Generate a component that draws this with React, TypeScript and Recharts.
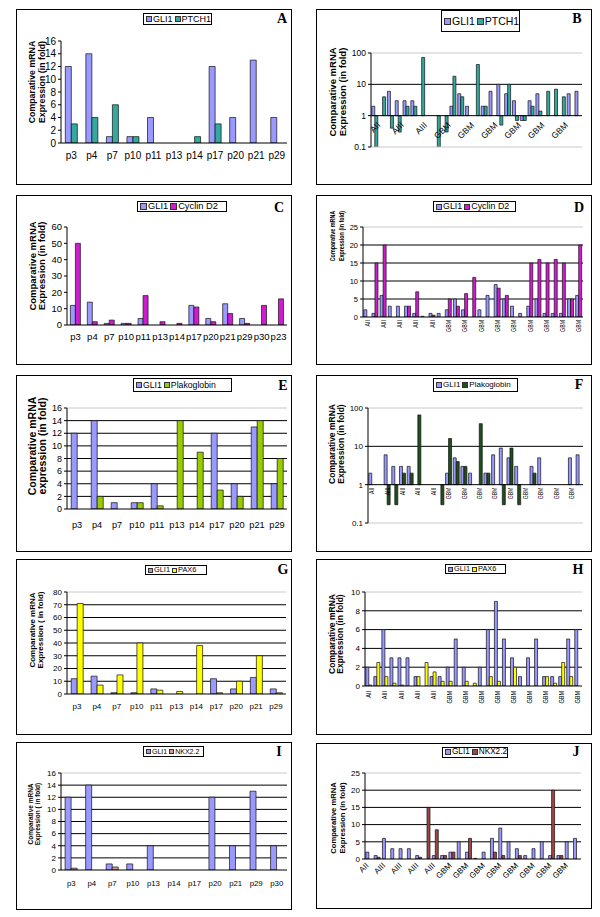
import React from 'react';
import { BarChart, Bar, XAxis, YAxis, CartesianGrid, ReferenceLine } from 'recharts';

const FONT = '"Liberation Sans", Arial, Helvetica, sans-serif';
const SERIF = '"Liberation Serif", "Times New Roman", serif';

// ---- shared ----
const gliColor = '#9999FF';
const grades = [
  'AII', 'AII', 'AIII', 'AIII', 'AIII', 'AIII', 'AIII', 'AIII', 'AIII', 'GBM',
  'GBM', 'GBM', 'GBM', 'GBM', 'GBM', 'GBM', 'GBM', 'GBM', 'GBM', 'GBM',
  'GBM', 'GBM', 'GBM', 'GBM', 'GBM', 'GBM', 'GBM', 'GBM',
];

// ---- A: GLI1 / PTCH1, cell lines ----
const catsA = ['p3', 'p4', 'p7', 'p10', 'p11', 'p13', 'p14', 'p17', 'p20', 'p21', 'p29'];
const gliA = [12, 14, 1, 1, 4, 0, 0, 12, 4, 13, 4];
const ptchA = [3, 4, 6, 1, 0, 0, 1, 3, 0, 0, 0];
const ticksA = [0, 2, 4, 6, 8, 10, 12, 14, 16];

// ---- B: GLI1 / PTCH1, tumours (log) ----
const catsB = grades.slice(0, 27);
const gliB = [2, null, 6, 3, 3, 3, null, null, null, null, 2, 5, 2, null, 2, 6, 10, 5, 3, 0.7, 3, 5, null, null, null, 5, 6];
const ptchB = [0.1, 4, 0.4, 0.3, 2, 2, 72, null, 0.1, 0.3, 18, 4, null, 43, 2, null, 0.5, 10, 0.7, 0.7, 2, 1.4, 6, 7, 4, null, null];
const ticksB = [0.1, 1, 10, 100];

// ---- C: GLI1 / Cyclin D2, cell lines ----
const catsC = ['p3', 'p4', 'p7', 'p10', 'p11', 'p13', 'p14', 'p17', 'p20', 'p21', 'p29', 'p30', 'p23'];
const gliC = [12, 14, 1, 1, 4, 0, 0, 12, 4, 13, 4, 0, 0];
const cycC = [50, 2, 3, 1, 18, 2, 1, 11, 2, 7, 1, 12, 16];
const ticksC = [0, 10, 20, 30, 40, 50, 60];

// ---- D: GLI1 / Cyclin D2, tumours ----
const catsD = grades.slice(0, 27);
const gliD = [2, 1, 6, 3, 3, 3, 1, 0.2, 1, 1, 2, 5, 2, 0, 2, 6, 9, 5, 3, 1, 3, 5, 1, 1, 1, 5, 6];
const cycD = [0, 15, 20, 0, 0, 3, 7, 0, 0.5, 0, 5, 3, 6.5, 11, 0, 0, 8, 6, 0, 0, 15, 16, 15, 16, 15, 5, 20];
const ticksD = [0, 5, 10, 15, 20, 25];

// ---- E: GLI1 / Plakoglobin, cell lines ----
const catsE = ['p3', 'p4', 'p7', 'p10', 'p11', 'p13', 'p14', 'p17', 'p20', 'p21', 'p29'];
const gliE = [12, 14, 1, 1, 4, 0, 0, 12, 4, 13, 4];
const plakoE = [0, 2, 0, 1, 0.5, 14, 9, 3, 2, 14, 8];
const ticksE = [0, 2, 4, 6, 8, 10, 12, 14, 16];

// ---- F: GLI1 / Plakoglobin, tumours (log) ----
const catsF = grades.slice(0, 28);
const gliF = [2, null, 6, 3, 3, 3, null, null, null, null, 2, 5, 3, 2, null, 2, 6, 9, 5, 3, null, 3, 5, null, null, null, 5, 6];
const plakoF = [null, null, 0.3, 0.3, 2, 2, 66, null, null, 0.3, 16, 4, 3, null, 39, 2, null, 0.3, 9, 0.3, null, 2, null, null, null, null, null, null];
const ticksF = [0.1, 1, 10, 100];

// ---- G: GLI1 / PAX6, cell lines ----
const catsG = ['p3', 'p4', 'p7', 'p10', 'p11', 'p13', 'p14', 'p17', 'p20', 'p21', 'p29'];
const gliG = [12, 14, 1, 1, 4, 0, 0, 12, 4, 13, 4];
const paxG = [71, 7, 15, 40, 3, 2, 38, 1, 10, 30, 1];
const ticksG = [0, 10, 20, 30, 40, 50, 60, 70, 80];

// ---- H: GLI1 / PAX6, tumours ----
const catsH = grades.slice(0, 27);
const gliH = [2, 1, 6, 3, 3, 3, 1, 0, 1, 1, 2, 5, 2, 0, 2, 6, 9, 5, 3, 1, 3, 5, 1, 1, 1, 5, 6];
const paxH = [0.1, 2.5, 1, 0.3, 0.1, 0, 1, 2.5, 1.5, 0.5, 0.5, 0, 0.5, 0.3, 0, 1, 0.5, 0, 2, 0, 0, 0, 1, 0.3, 2.5, 1, 0];
const ticksH = [0, 2, 4, 6, 8, 10];

// ---- I: GLI1 / NKX2.2, cell lines ----
const catsI = ['p3', 'p4', 'p7', 'p10', 'p13', 'p14', 'p17', 'p20', 'p21', 'p29', 'p30'];
const gliI = [12, 14, 1, 1, 4, 0, 0, 12, 4, 13, 4];
const nkxI = [0.3, 0, 0.5, 0, 0, 0, 0, 0, 0, 0, 0];
const ticksI = [0, 2, 4, 6, 8, 10, 12, 14, 16];

// ---- J: GLI1 / NKX2.2, tumours ----
const catsJ = grades.slice(0, 26);
const gliJ = [2, 1, 6, 3, 3, 3, 1, 0, 1, 1, 2, 5, 2, 0.2, 2, 6, 9, 5, 3, 1, 3, 5, 1, 1, 5, 6];
const nkxJ = [0, 0.5, 0, 0, 0, 0, 0.5, 15, 8.5, 1, 2, 0, 6, 0, 0, 2, 1, 0, 1, 0, 0, 0, 20, 1, 0, 0];
const ticksJ = [0, 5, 10, 15, 20, 25];

const LBL = ['Comparative mRNA', 'Expression (in fold)'];
const LBL2 = ['Comparative mRNA', 'Expression ( in fold)'];

const panels = [
  {
    letter: 'A', box: [16, 9, 276, 176], plot: [61, 41, 287, 143], cats: catsA,
    s: [{ name: 'GLI1', values: gliA, color: gliColor }, { name: 'PTCH1', values: ptchA, color: '#33A99F' }],
    ticks: ticksA, grid: [], light: [], mode: 'flat', interval: 0, xFont: 10, yFont: 10, xOff: 16, xDx: 0, xSx: 1, gap: '21%',
    yLabel: { lines: LBL, x: [32, 42], cy: 82, size: 8.8, sx: 1 },
    legend: [143, 13, 69, 12], legendFont: 9, letterPos: [282, 24],
  },
  {
    letter: 'B', box: [316, 9, 276, 176], plot: [371, 53, 582, 147], cats: catsB, log: true,
    s: [{ name: 'GLI1', values: gliB, color: gliColor }, { name: 'PTCH1', values: ptchB, color: '#33A99F' }],
    ticks: ticksB, grid: [10], light: [100, 0.1], mode: 'diag', interval: 2, xFont: 8.5, yFont: 8.5, xOff: 10, xDx: 6, xSx: 1, gap: '10%',
    yLabel: { lines: LBL, x: [333, 343], cy: 92, size: 9.5, sx: 1 },
    legend: [441, 10, 79, 22], legendFont: 10.5, letterPos: [577, 24],
  },
  {
    letter: 'C', box: [16, 195, 276, 170], plot: [67, 227, 287, 325], cats: catsC,
    s: [{ name: 'GLI1', values: gliC, color: gliColor }, { name: 'Cyclin D2', values: cycC, color: '#D11BD1' }],
    ticks: ticksC, grid: [], light: [], mode: 'flat', interval: 0, xFont: 9.5, yFont: 9.5, xOff: 15, xDx: 0, xSx: 1, gap: '20%',
    yLabel: { lines: LBL, x: [33, 42], cy: 266, size: 9.5, sx: 1 },
    legend: [137, 201, 90, 11], legendFont: 9.3, letterPos: [279, 213],
  },
  {
    letter: 'D', box: [316, 195, 276, 170], plot: [363, 227, 583, 317], cats: catsD,
    s: [{ name: 'GLI1', values: gliD, color: gliColor }, { name: 'Cyclin D2', values: cycD, color: '#D11BD1' }],
    ticks: ticksD, grid: [5, 10, 15, 20], light: [25], mode: 'vert', interval: 1, xFont: 7, yFont: 7.5, xOff: 3, xDx: 0, xSx: 0.75, gap: '10%',
    yLabel: { lines: LBL, x: [333, 342], cy: 236, size: 7, sx: 0.77 },
    legend: [433, 201, 83, 11], legendFont: 8.9, letterPos: [579, 213],
  },
  {
    letter: 'E', box: [16, 375, 276, 177], plot: [67, 408, 287, 509], cats: catsE,
    s: [{ name: 'GLI1', values: gliE, color: gliColor }, { name: 'Plakoglobin', values: plakoE, color: '#99CC00' }],
    ticks: ticksE, grid: [2, 4, 6, 8, 10, 12, 14], light: [16], mode: 'flat', interval: 0, xFont: 9.2, yFont: 9, xOff: 18.5, xDx: 0, xSx: 1, gap: '21%',
    yLabel: { lines: ['Comparative mRNA', 'expression (in fold)'], x: [32, 42], cy: 446, size: 10.5, sx: 1 },
    legend: [133, 378, 99, 14], legendFont: 8.7, letterPos: [283, 391],
  },
  {
    letter: 'F', box: [316, 375, 276, 177], plot: [368, 408, 583, 523], cats: catsF, log: true,
    s: [{ name: 'GLI1', values: gliF, color: gliColor }, { name: 'Plakoglobin', values: plakoF, color: '#1F4F1F' }],
    ticks: ticksF, grid: [10], light: [100, 0.1], mode: 'vert', interval: 1, xFont: 7, yFont: 8, xOff: 3, xDx: 0, xSx: 0.73, gap: '10%',
    yLabel: { lines: LBL, x: [332, 341], cy: 444, size: 8.5, sx: 1 },
    legend: [433, 378, 85, 14], legendFont: 8, letterPos: [579, 390],
  },
  {
    letter: 'G', box: [16, 559, 276, 176], plot: [67, 592, 286, 694], cats: catsG,
    s: [{ name: 'GLI1', values: gliG, color: gliColor }, { name: 'PAX6', values: paxG, color: '#FFFF00' }],
    ticks: ticksG, grid: [10, 20, 30, 40, 50, 60, 70], light: [80], mode: 'flat', interval: 0, xFont: 8, yFont: 8, xOff: 15, xDx: 0, xSx: 1, gap: '21%',
    yLabel: { lines: LBL2, x: [32, 40], cy: 630, size: 8, sx: 1 },
    legend: [145, 565, 62, 10], legendFont: 7.4, letterPos: [283, 575],
  },
  {
    letter: 'H', box: [316, 559, 276, 176], plot: [365, 592, 582, 686], cats: catsH,
    s: [{ name: 'GLI1', values: gliH, color: gliColor }, { name: 'PAX6', values: paxH, color: '#FFFF00' }],
    ticks: ticksH, grid: [2, 4, 6, 8], light: [10], mode: 'vert', interval: 1, xFont: 6.5, yFont: 8, xOff: 5, xDx: 0, xSx: 0.85, gap: '10%',
    yLabel: { lines: LBL, x: [332, 340], cy: 634, size: 8.5, sx: 1 },
    legend: [445, 564, 61, 10], legendFont: 7.4, letterPos: [578, 575],
  },
  {
    letter: 'I', box: [16, 742, 276, 168], plot: [61, 773, 287, 870], cats: catsI,
    s: [{ name: 'GLI1', values: gliI, color: gliColor }, { name: 'NKX2.2', values: nkxI, color: '#E0958A' }],
    ticks: ticksI, grid: [2, 4, 6, 8, 10, 12, 14], light: [16], mode: 'flat', interval: 0, xFont: 7.8, yFont: 8, xOff: 16, xDx: 0, xSx: 1, gap: '20%',
    yLabel: { lines: LBL2, x: [31, 38], cy: 814, size: 7, sx: 0.93 },
    legend: [143, 746, 61, 11], legendFont: 7, letterPos: [279, 757],
  },
  {
    letter: 'J', box: [316, 743, 276, 166], plot: [365, 773, 581, 859], cats: catsJ,
    s: [{ name: 'GLI1', values: gliJ, color: gliColor }, { name: 'NKX2.2', values: nkxJ, color: '#A04545' }],
    ticks: ticksJ, grid: [5, 10, 15, 20], light: [25], mode: 'diag', interval: 1, xFont: 8, yFont: 8, xOff: 7, xDx: 0, xSx: 1, gap: '10%',
    yLabel: { lines: LBL, x: [333, 342], cy: 818, size: 8, sx: 0.95 },
    legend: [442, 747, 66, 11], legendFont: 8.2, letterPos: [576, 757],
  },
];

const EdgeTick = (p: any) => (
  <line x1={p.x} x2={p.x} y1={p.y - p.lift} y2={p.y - p.lift + 4} stroke="#000" strokeWidth={1} />
);

const CatTick = (p: any) => {
  const { x, y, payload, c, lift } = p;
  const label = c.cats[payload.value];
  const yy = y - lift;
  const common = { fontFamily: FONT, fontSize: c.xFont, fill: '#000' };
  if (c.mode === 'flat') {
    return <text x={x} y={yy + c.xOff} textAnchor="middle" {...common}>{label}</text>;
  }
  if (c.mode === 'vert') {
    return (
      <text transform={`translate(${x + c.xFont * 0.36},${yy + c.xOff}) rotate(-90) scale(${c.xSx},1)`} textAnchor="end" {...common}>
        {label}
      </text>
    );
  }
  return (
    <text transform={`translate(${x + c.xDx},${yy + c.xOff}) rotate(-45)`} textAnchor="end" {...common}>
      {label}
    </text>
  );
};

const YLabel = (p: any) => {
  const { c } = p;
  const [L, T] = c.box;
  return (
    <g>
      {c.yLabel.lines.map((t: string, k: number) => (
        <text key={k}
          transform={`translate(${c.yLabel.x[k] - L},${c.yLabel.cy - T}) rotate(-90) scale(${c.yLabel.sx},1)`}
          dy="0.35em" textAnchor="middle" fontFamily={FONT} fontWeight="bold" fontSize={c.yLabel.size} fill="#000">
          {t}
        </text>
      ))}
    </g>
  );
};

function LegendBox({ c }: any) {
  const [lx, ly, lw, lh] = c.legend;
  const [L, T] = c.box;
  const q = Math.round(c.legendFont * 0.7);
  return (
    <div style={{
      position: 'absolute', left: lx - L, top: ly - T, width: lw, height: lh, boxSizing: 'border-box',
      border: '1px solid #000', background: '#fff', display: 'flex', alignItems: 'center', paddingLeft: 2,
      fontFamily: FONT, fontSize: c.legendFont, lineHeight: 1, whiteSpace: 'nowrap', overflow: 'hidden',
    }}>
      {c.s.map((s: any, k: number) => (
        <span key={k} style={{ display: 'inline-flex', alignItems: 'center', marginRight: 2 }}>
          <span style={{ display: 'inline-block', width: q, height: q, background: s.color, border: '1px solid #333', boxSizing: 'border-box', marginRight: 1 }} />
          {s.name}
        </span>
      ))}
    </div>
  );
}

function Panel({ c }: any) {
  const [L, T, W, H] = c.box;
  const [ax, pt, pr, pb] = c.plot;
  const n = c.cats.length;
  const data = c.cats.map((g: string, i: number) => ({ i, grade: g, v0: c.s[0].values[i], v1: c.s[1].values[i] }));
  const lo = c.ticks[0];
  const hi = c.ticks[c.ticks.length - 1];
  // distance from the bottom of the plot up to value 1, where the log charts cross
  const lift = c.log ? ((pb - pt) * Math.log10(1 / lo)) / Math.log10(hi / lo) : 0;
  const edgeTicks = Array.from({ length: n + 1 }, (_, k) => k);
  const key = (k: number) => (c.log ? (d: any) => (d[`v${k}`] == null ? null : [1, d[`v${k}`]]) : `v${k}`);

  return (
    <div style={{ position: 'absolute', left: L, top: T, width: W, height: H }}>
      <div style={{ position: 'absolute', inset: 0, border: '1px solid #000', boxSizing: 'border-box' }} />
      <div style={{ position: 'absolute', left: 0, top: 0 }}>
        <BarChart width={W} height={H} data={data} barCategoryGap={c.gap} barGap={0}
          margin={{ top: pt - T, right: L + W - pr, bottom: 0, left: 0 }}>
          {c.grid.length > 0 && (
            <CartesianGrid xAxisId="m" vertical={false} horizontalValues={c.grid} stroke="#000" strokeWidth={1} />
          )}
          {c.light.map((v: number) => (
            <ReferenceLine key={`l${v}`} xAxisId="m" y={v} stroke="#c8c8c8" strokeWidth={1} />
          ))}
          <XAxis xAxisId="e" type="number" dataKey="i" domain={[0, n]} ticks={edgeTicks} interval={0} height={0}
            allowDataOverflow axisLine={false} tickLine={false} tickSize={0} tickMargin={0} tick={<EdgeTick lift={lift} />} />
          <XAxis xAxisId="m" type="category" dataKey="i" height={T + H - pb} interval={c.interval}
            tickSize={0} tickMargin={0} tickLine={false} axisLine={c.log ? false : { stroke: '#000' }}
            tick={<CatTick c={c} lift={lift} />} />
          <YAxis width={ax - L} type="number" scale={c.log ? 'log' : 'auto'} domain={[lo, hi]} ticks={c.ticks}
            allowDataOverflow interval={0} tickSize={3} tickMargin={2}
            axisLine={{ stroke: '#000' }} tickLine={{ stroke: '#000' }}
            tick={{ fontSize: c.yFont, fill: '#000', fontFamily: FONT }}
            tickFormatter={(v: number) => String(v)} label={<YLabel c={c} />} />
          {c.s.map((s: any, k: number) => (
            <Bar key={s.name} xAxisId="m" dataKey={key(k)} name={s.name} fill={s.color}
              stroke="#111" strokeWidth={0.7} isAnimationActive={false} />
          ))}
          {c.log && <ReferenceLine xAxisId="m" y={1} stroke="#000" strokeWidth={1} />}
        </BarChart>
      </div>
      <LegendBox c={c} />
      <div style={{
        position: 'absolute', left: c.letterPos[0] - L, top: c.letterPos[1] - T - 11.7, transform: 'translateX(-50%)',
        fontFamily: SERIF, fontWeight: 'bold', fontSize: 14, lineHeight: '14px',
      }}>
        {c.letter}
      </div>
    </div>
  );
}

export default function App() {
  return (
    <div style={{ position: 'absolute', left: 0, top: 0, width: 600, height: 917, background: '#fff', fontFamily: FONT }}>
      {panels.map((p) => (
        <Panel key={p.letter} c={p} />
      ))}
    </div>
  );
}
